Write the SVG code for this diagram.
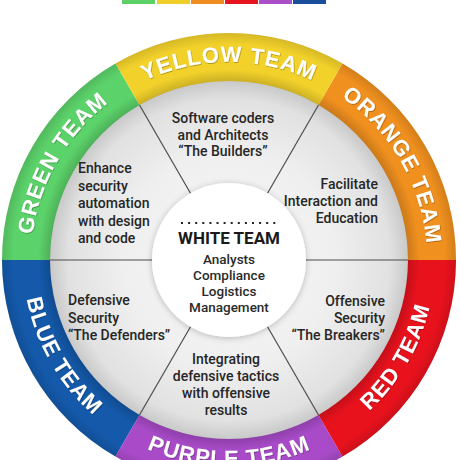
<svg xmlns="http://www.w3.org/2000/svg" width="460" height="460" viewBox="0 0 460 460">
<defs>
<style>
.ring{stroke:none}
.lbl{font-family:"Liberation Sans",Arial,sans-serif;font-weight:bold;font-size:22px;fill:#ffffff;letter-spacing:1px;filter:url(#ts)}
.txt{font-family:Roboto,"Liberation Sans",Arial,sans-serif;font-weight:500;font-size:14px;fill:#262626}
.wt{font-family:Roboto,"Liberation Sans",Arial,sans-serif;font-weight:bold;font-size:17px;fill:#1a1a1a}
.ws{font-family:Roboto,"Liberation Sans",Arial,sans-serif;font-weight:500;font-size:13.5px;fill:#2a2a2a}
.div{stroke:#4d4d4d;stroke-width:1.2;fill:none}
</style>
<radialGradient id="disk" cx="229" cy="260" r="179" gradientUnits="userSpaceOnUse">
<stop offset="0" stop-color="#f8f8f8"/>
<stop offset="0.6" stop-color="#efefef"/>
<stop offset="0.9" stop-color="#e1e1e1"/>
<stop offset="1" stop-color="#c9c9c9"/>
</radialGradient>
<radialGradient id="tube" cx="229" cy="260" r="227" gradientUnits="userSpaceOnUse">
<stop offset="0.78" stop-color="#000" stop-opacity="0.18"/>
<stop offset="0.84" stop-color="#000" stop-opacity="0"/>
<stop offset="0.95" stop-color="#000" stop-opacity="0"/>
<stop offset="1" stop-color="#000" stop-opacity="0.12"/>
</radialGradient>
<filter id="ts" x="-10%" y="-30%" width="120%" height="160%">
<feDropShadow dx="0.6" dy="0.8" stdDeviation="0.6" flood-color="#000" flood-opacity="0.35"/>
</filter>
<filter id="sh" x="-20%" y="-20%" width="140%" height="140%">
<feDropShadow dx="0" dy="1" stdDeviation="3" flood-color="#000" flood-opacity="0.25"/>
</filter>
<path id="pYellow" d="M130,88.5 A198,198 0 0 1 328,88.5"/>
<path id="pGreen" d="M31,260 A198,198 0 0 1 130,88.5"/>
<path id="pOrange" d="M328,88.5 A198,198 0 0 1 427,260"/>
<path id="pBlue" d="M23,260 A206,206 0 0 0 126,438.4"/>
<path id="pPurple" d="M126,438.4 A206,206 0 0 0 332,438.4"/>
<path id="pRed" d="M332,438.4 A206,206 0 0 0 435,260"/>
</defs>

<rect width="460" height="460" fill="#ffffff"/>

<g id="legend">
<rect x="122" y="0" width="33" height="4" fill="#5dd068"/>
<rect x="157" y="0" width="33" height="4" fill="#f0ce2a"/>
<rect x="191" y="0" width="33" height="4" fill="#ef8e20"/>
<rect x="225" y="0" width="33" height="4" fill="#e5141f"/>
<rect x="259" y="0" width="33" height="4" fill="#aa4fc7"/>
<rect x="293" y="0" width="33" height="4" fill="#1a4e9a"/>
</g>

<g id="inner-disk">
<circle cx="229" cy="260" r="180" fill="url(#disk)"/>
</g>

<g id="connectors">
<line class="div" x1="190.5" y1="193.3" x2="139.5" y2="105"/>
<line class="div" x1="267.5" y1="193.3" x2="318.5" y2="105"/>
<line class="div" x1="306" y1="260" x2="408" y2="260"/>
<line class="div" x1="267.5" y1="326.7" x2="318.5" y2="415"/>
<line class="div" x1="190.5" y1="326.7" x2="139.5" y2="415"/>
<line class="div" x1="152" y1="260" x2="50" y2="260"/>
</g>

<g id="ring">
<path id="seg-green" class="ring" fill="#5cd26a" d="M2,260 A227,227 0 0 1 115.5,63.4 L139.5,105 A179,179 0 0 0 50,260 Z"/>
<path id="seg-blue" class="ring" fill="#1459aa" d="M115.5,456.6 A227,227 0 0 1 2,260 L50,260 A179,179 0 0 0 139.5,415 Z"/>
<path id="seg-purple" class="ring" fill="#a94bc9" d="M342.5,456.6 A227,227 0 0 1 115.5,456.6 L139.5,415 A179,179 0 0 0 318.5,415 Z"/>
<path id="seg-red" class="ring" fill="#e8121d" d="M456,260 A227,227 0 0 1 342.5,456.6 L318.5,415 A179,179 0 0 0 408,260 Z"/>
<path id="seg-orange" class="ring" fill="#f0901f" d="M342.5,63.4 A227,227 0 0 1 456,260 L408,260 A179,179 0 0 0 318.5,105 Z"/>
<path id="seg-yellow" class="ring" fill="#f2d12b" d="M115.5,63.4 A227,227 0 0 1 342.5,63.4 L318.5,105 A179,179 0 0 0 139.5,105 Z"/>
<path fill="url(#tube)" fill-rule="evenodd" d="M2,260 A227,227 0 1 0 456,260 A227,227 0 1 0 2,260 Z M50,260 A179,179 0 1 0 408,260 A179,179 0 1 0 50,260 Z"/>
</g>

<g id="yellow-team">
<text class="lbl"><textPath href="#pYellow" startOffset="50%" text-anchor="middle">YELLOW TEAM</textPath></text>
<text class="txt" text-anchor="middle" x="223" y="123">Software coders</text>
<text class="txt" text-anchor="middle" x="223" y="139.5">and Architects</text>
<text class="txt" text-anchor="middle" x="223" y="156">“The Builders”</text>
</g>

<g id="green-team">
<text class="lbl"><textPath href="#pGreen" startOffset="50%" text-anchor="middle">GREEN TEAM</textPath></text>
<text class="txt" x="78" y="173">Enhance</text>
<text class="txt" x="78" y="190.5">security</text>
<text class="txt" x="78" y="208">automation</text>
<text class="txt" x="78" y="225.5">with design</text>
<text class="txt" x="78" y="243">and code</text>
</g>

<g id="orange-team">
<text class="lbl"><textPath href="#pOrange" startOffset="50%" text-anchor="middle">ORANGE TEAM</textPath></text>
<text class="txt" text-anchor="end" x="378" y="188.5">Facilitate</text>
<text class="txt" text-anchor="end" x="378" y="205.5">Interaction and</text>
<text class="txt" text-anchor="end" x="378" y="222.5">Education</text>
</g>

<g id="blue-team">
<text class="lbl"><textPath href="#pBlue" startOffset="50%" text-anchor="middle">BLUE TEAM</textPath></text>
<text class="txt" x="68" y="305">Defensive</text>
<text class="txt" x="68" y="322.5">Security</text>
<text class="txt" x="68" y="340">“The Defenders”</text>
</g>

<g id="red-team">
<text class="lbl"><textPath href="#pRed" startOffset="50%" text-anchor="middle">RED TEAM</textPath></text>
<text class="txt" text-anchor="end" x="385" y="306">Offensive</text>
<text class="txt" text-anchor="end" x="385" y="323">Security</text>
<text class="txt" text-anchor="end" x="385" y="340">“The Breakers”</text>
</g>

<g id="purple-team">
<text class="lbl"><textPath href="#pPurple" startOffset="50%" text-anchor="middle">PURPLE TEAM</textPath></text>
<text class="txt" text-anchor="middle" x="226" y="364">Integrating</text>
<text class="txt" text-anchor="middle" x="226" y="381">defensive tactics</text>
<text class="txt" text-anchor="middle" x="226" y="398">with offensive</text>
<text class="txt" text-anchor="middle" x="226" y="415">results</text>
</g>

<g id="white-team">
<circle cx="229" cy="260" r="77" fill="#ffffff" filter="url(#sh)"/>
<line x1="181" y1="223" x2="277" y2="223" stroke="#222" stroke-width="2" stroke-dasharray="2 5.1"/>
<text class="wt" text-anchor="middle" x="229" y="244">WHITE TEAM</text>
<text class="ws" text-anchor="middle" x="229" y="264">Analysts</text>
<text class="ws" text-anchor="middle" x="229" y="280">Compliance</text>
<text class="ws" text-anchor="middle" x="229" y="296">Logistics</text>
<text class="ws" text-anchor="middle" x="229" y="312">Management</text>
</g>
</svg>
